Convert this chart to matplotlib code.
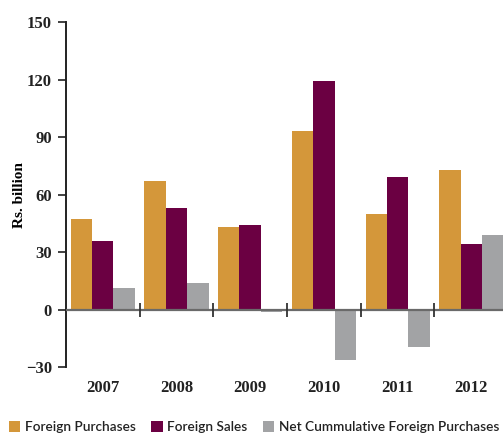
import matplotlib.pyplot as plt
import numpy as np

years = ['2007', '2008', '2009', '2010', '2011', '2012']
foreign_purchases = [47.5, 67.0, 43.0, 93.0, 49.8, 72.8]
foreign_sales = [35.8, 53.0, 44.0, 119.2, 69.0, 34.2]
net_cumulative = [11.2, 13.8, -1.0, -26.5, -19.4, 38.9]

serif = ['Liberation Serif', 'DejaVu Serif']

fig = plt.figure(figsize=(5.03, 4.36), dpi=100)
ax = fig.add_axes([0.131, 0.158, 0.869, 0.7915])

x = np.arange(len(years))
w = 0.29
ax.bar(x - w, foreign_purchases, w, color='#D4973A', label='Foreign Purchases')
ax.bar(x, foreign_sales, w, color='#6B0042', label='Foreign Sales')
ax.bar(x + w, net_cumulative, w, color='#A2A3A5', label='Net Cummulative Foreign Purchases')

# zero line and group separators
ax.axhline(0, color='#6a6a6a', lw=1.6, zorder=3)
ax.plot(x[:-1] + 0.5, np.zeros(len(x) - 1), ls='none', marker='|',
        ms=10, mew=1.3, color='#333333', zorder=4, clip_on=False)

ax.set_xlim(-0.5, 5.43)
ax.set_ylim(-30, 150)
ax.set_yticks(np.arange(-30, 151, 30))
ax.set_xticks(x)
ax.set_xticklabels(years, fontfamily=serif, fontweight='bold', fontsize=12, color='#222222')
ax.tick_params(axis='x', length=0, pad=9)
ax.tick_params(axis='y', length=6, width=1.3, color='#333333', pad=4)
for lbl in ax.get_yticklabels():
    lbl.set_fontfamily(serif)
    lbl.set_fontweight('bold')
    lbl.set_fontsize(12)
    lbl.set_color('#222222')

for s in ['top', 'right', 'bottom']:
    ax.spines[s].set_visible(False)
ax.spines['left'].set_linewidth(1.4)
ax.spines['left'].set_color('#222222')

ax.set_ylabel('Rs. billion', fontfamily=serif, fontweight='bold', fontsize=11)
ax.yaxis.set_label_coords(-0.092, 0.5)

fig.legend(loc='lower center', bbox_to_anchor=(0.505, -0.022), ncol=3, frameon=False,
           handlelength=0.85, handleheight=0.85, handletextpad=0.35, columnspacing=1.1,
           prop={'family': 'Lato', 'size': 9.8, 'weight': 'semibold'}, labelcolor='#222222')

plt.savefig('out.png', dpi=100)
